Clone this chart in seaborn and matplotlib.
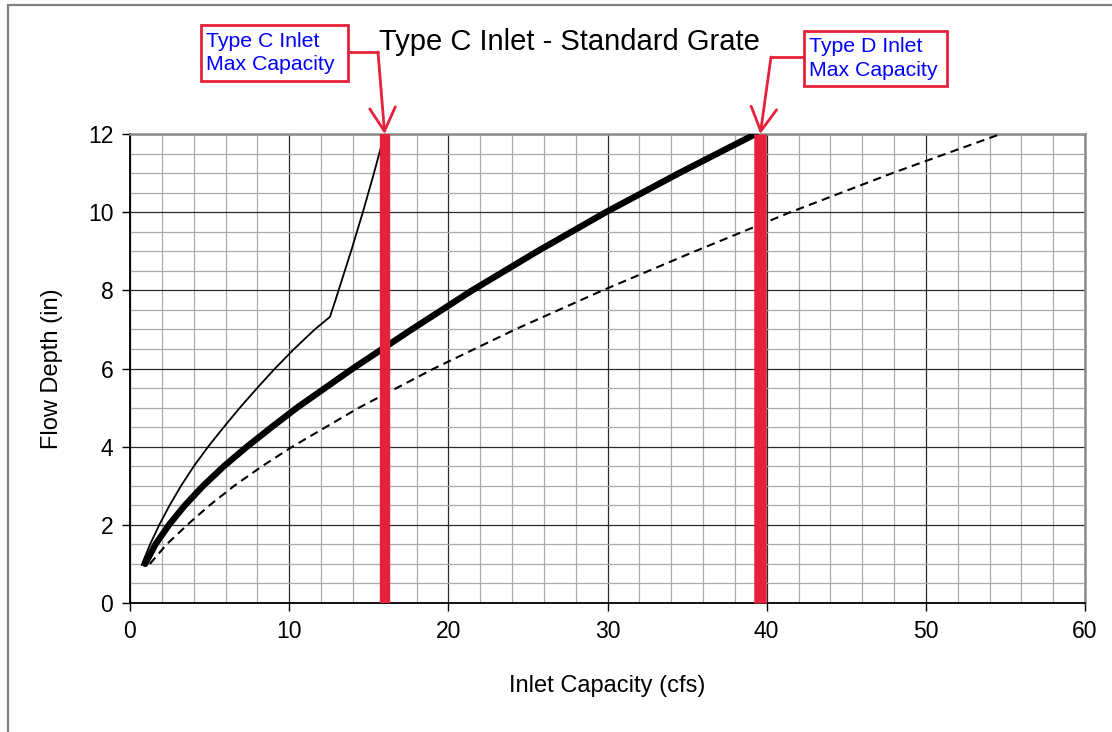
import pandas as pd
import numpy as np
import matplotlib
matplotlib.use("Agg")
import matplotlib.pyplot as plt
from matplotlib.lines import Line2D
from matplotlib.patches import Rectangle
from matplotlib.ticker import MultipleLocator
import seaborn as sns

# ── data ────────────────────────────────────────────────────────────────────
# thick solid curve (flow depth vs capacity)
thick_depth = [1, 1.5, 2, 2.5, 3, 3.5, 4, 4.5, 5, 6, 7, 8, 9, 10, 11, 12]
thick_q     = [0.95, 1.6, 2.45, 3.45, 4.6, 5.9, 7.35, 8.9, 10.5, 14.0, 17.7, 21.5, 25.6,
               29.9, 34.5, 39.3]

# dashed curve
dash_depth = [1, 1.5, 2, 2.5, 3, 3.5, 4, 5, 6, 7, 8, 9, 10, 11, 12]
dash_q     = [1.25, 2.3, 3.6, 5.0, 6.55, 8.3, 10.2, 14.4, 19.1, 24.2, 29.7, 35.5, 41.5,
              47.9, 54.7]

# thin solid curve (with the kink near 12.5 cfs)
thin_depth = [0.97, 1.5, 2, 2.5, 3, 3.5, 4, 4.5, 5, 5.5, 6, 6.5, 7, 7.32,
              7.75, 9.03, 10.0, 10.9, 11.59, 12.0]
thin_q     = [0.73, 1.26, 1.84, 2.49, 3.21, 4.01, 4.91, 5.89, 6.91, 7.99, 9.11, 10.31, 11.61,
              12.56, 12.91, 13.91, 14.63, 15.26, 15.72, 15.97]

# max capacity markers
inlet_names = ["Type C Inlet\nMax Capacity", "Type D Inlet\nMax Capacity"]
inlet_max   = [16.0, 39.6]
max_depth   = 12

RED  = "#E6213B"
BLUE = "#0000FF"
W, H = 1112, 732

sns.set_style("white")
plt.rcParams["font.family"] = ["Liberation Sans", "DejaVu Sans"]
plt.rcParams["text.color"] = "black"
plt.rcParams["axes.labelcolor"] = "black"
plt.rcParams["xtick.color"] = "black"
plt.rcParams["ytick.color"] = "black"

fig = plt.figure(figsize=(W / 100, H / 100), dpi=100)
ax = fig.add_axes([130 / W, 1 - 603 / H, (1085 - 130) / W, (603 - 134) / H])

# ── grid ────────────────────────────────────────────────────────────────────
ax.set_xlim(0, 60)
ax.set_ylim(0, 12)
ax.xaxis.set_major_locator(MultipleLocator(10))
ax.xaxis.set_minor_locator(MultipleLocator(2))
ax.yaxis.set_major_locator(MultipleLocator(2))
ax.yaxis.set_minor_locator(MultipleLocator(0.5))
ax.grid(which="minor", color="#ababab", lw=0.9)
ax.grid(which="major", color="#2b2b2b", lw=0.9)
ax.set_axisbelow(True)

# ── curves ──────────────────────────────────────────────────────────────────
thin_df  = pd.DataFrame({"q": thin_q, "depth": thin_depth})
thick_df = pd.DataFrame({"q": thick_q, "depth": thick_depth})
dash_df  = pd.DataFrame({"q": dash_q, "depth": dash_depth})

sns.lineplot(data=dash_df, x="q", y="depth", sort=False, ax=ax, color="black",
             lw=1.5, linestyle=(0, (4, 2.6)), zorder=3)
sns.lineplot(data=thin_df, x="q", y="depth", sort=False, ax=ax, color="black",
             lw=1.3, zorder=3)
sns.lineplot(data=thick_df, x="q", y="depth", sort=False, ax=ax, color="black",
             lw=4.6, solid_capstyle="round", solid_joinstyle="round", zorder=4)

# red max capacity bars
for q, w in zip(inlet_max, [7.5, 9.0]):
    ax.plot([q, q], [0, max_depth], color=RED, lw=w, solid_capstyle="butt",
            zorder=5, clip_on=False)

# ── axes styling ────────────────────────────────────────────────────────────
for side in ["top", "right"]:
    ax.spines[side].set_color("#8c8c8c")
    ax.spines[side].set_linewidth(1.8)
for side in ["left", "bottom"]:
    ax.spines[side].set_color("black")
    ax.spines[side].set_linewidth(1.3)
ax.tick_params(which="major", direction="out", length=6, width=1, color="black",
               labelsize=16.5, pad=6, left=True, bottom=True)
ax.tick_params(which="minor", length=0)

ax.set_xlabel("Inlet Capacity (cfs)", fontsize=17, labelpad=23)
ax.set_ylabel("Flow Depth (in)", fontsize=17, labelpad=18)

fig.text(569.5 / W, 1 - 42 / H, "Type C Inlet - Standard Grate", fontsize=21,
         ha="center", va="center")

# ── callout boxes ───────────────────────────────────────────────────────────
boxes  = [(201, 25, 147, 56), (804, 31, 143, 55)]
elbows = [((348, 52), (378, 52)), ((804, 57), (771, 57))]
for name, q, (bx, by, bw, bh), (p0, p1) in zip(inlet_names, inlet_max, boxes, elbows):
    fig.add_artist(Rectangle((bx / W, 1 - (by + bh) / H), bw / W, bh / H,
                             transform=fig.transFigure, facecolor="white",
                             edgecolor=RED, lw=2, zorder=6))
    fig.text((bx + 5) / W, 1 - (by + bh / 2) / H, name, color=BLUE, fontsize=15.3,
             ha="left", va="center", linespacing=1.3, zorder=7)
    fig.add_artist(Line2D([p0[0] / W, p1[0] / W], [1 - p0[1] / H, 1 - p1[1] / H],
                          transform=fig.transFigure, color=RED, lw=2, zorder=6))
    ax.annotate("", xy=(q, max_depth), xycoords="data",
                xytext=(p1[0] / W, 1 - p1[1] / H), textcoords="figure fraction",
                arrowprops=dict(arrowstyle="->,head_length=0.4,head_width=0.22",
                                color=RED, lw=2, shrinkA=0, shrinkB=0,
                                mutation_scale=42),
                annotation_clip=False, zorder=6)

# figure frame (left and top edges visible)
fig.add_artist(Line2D([8 / W, 8 / W], [0, 1 - 5 / H], transform=fig.transFigure,
                      color="#808080", lw=1.6))
fig.add_artist(Line2D([8 / W, 1], [1 - 5 / H, 1 - 5 / H], transform=fig.transFigure,
                      color="#808080", lw=1.6))

fig.savefig("out.png", dpi=100)
